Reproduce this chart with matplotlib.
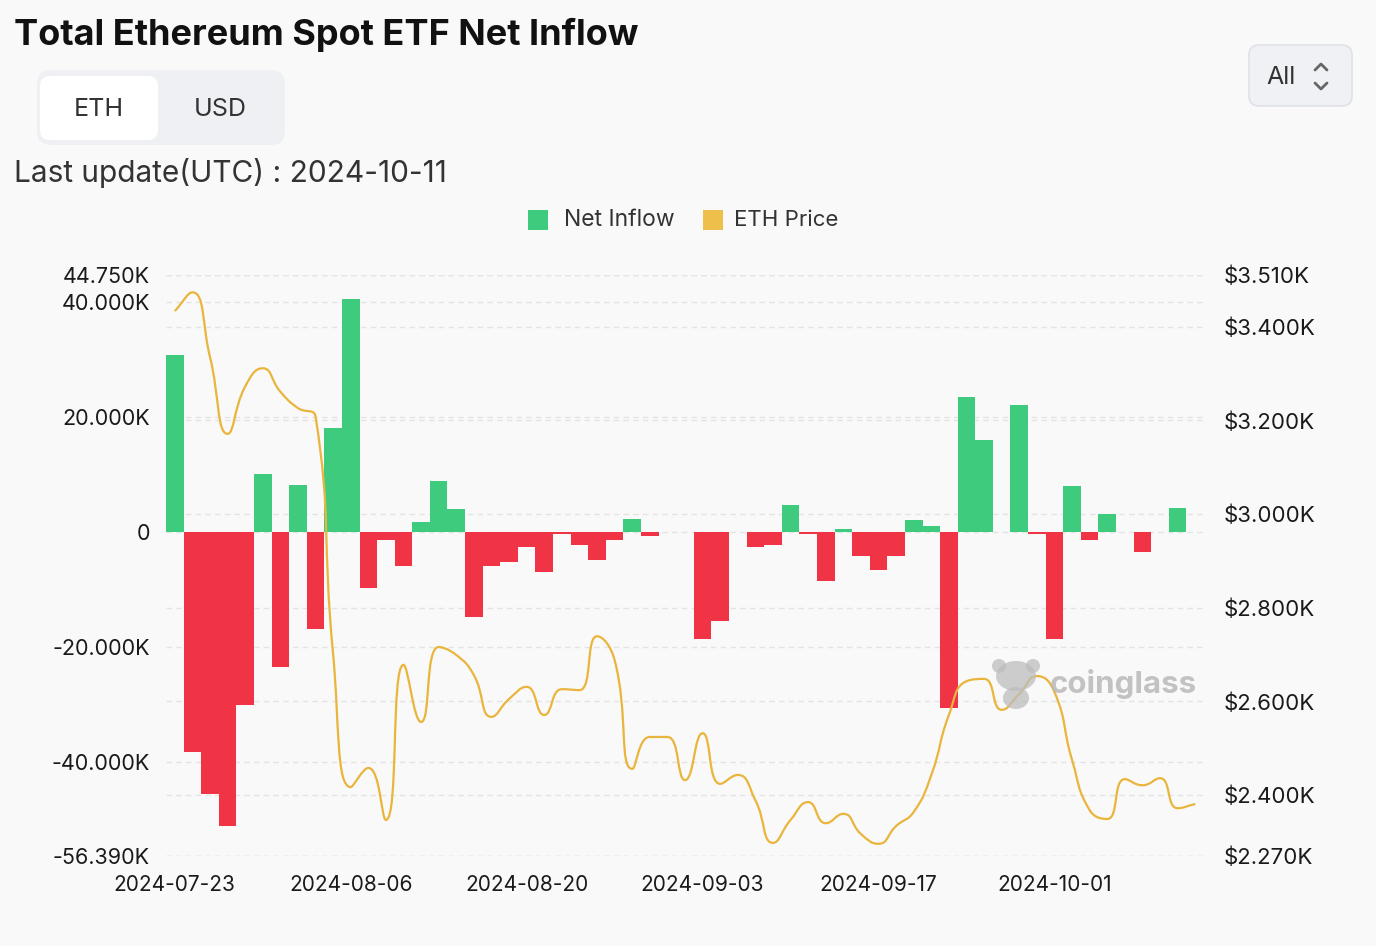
import matplotlib.pyplot as plt
import numpy as np
from matplotlib.patches import FancyBboxPatch, PathPatch, Rectangle, Ellipse, Circle
from matplotlib.path import Path

plt.rcParams['font.family'] = ['Inter', 'DejaVu Sans']

# ---------------------------------------------------------------------------
# DATA
# ---------------------------------------------------------------------------
DATES = [
    "2024-07-23", "2024-07-24", "2024-07-25", "2024-07-26", "2024-07-29",
    "2024-07-30", "2024-07-31", "2024-08-01", "2024-08-02", "2024-08-05",
    "2024-08-06", "2024-08-07", "2024-08-08", "2024-08-09", "2024-08-12",
    "2024-08-13", "2024-08-14", "2024-08-15", "2024-08-16", "2024-08-19",
    "2024-08-20", "2024-08-21", "2024-08-22", "2024-08-23", "2024-08-26",
    "2024-08-27", "2024-08-28", "2024-08-29", "2024-08-30", "2024-09-02",
    "2024-09-03", "2024-09-04", "2024-09-05", "2024-09-06", "2024-09-09",
    "2024-09-10", "2024-09-11", "2024-09-12", "2024-09-13", "2024-09-16",
    "2024-09-17", "2024-09-18", "2024-09-19", "2024-09-20", "2024-09-23",
    "2024-09-24", "2024-09-25", "2024-09-26", "2024-09-27", "2024-09-30",
    "2024-10-01", "2024-10-02", "2024-10-03", "2024-10-04", "2024-10-07",
    "2024-10-08", "2024-10-09", "2024-10-10", "2024-10-11",
]

# net inflow, thousand ETH
NET_INFLOW_K = [
    30.8, -38.2, -45.6, -51.1, -30.1, 10.1, -23.5, 8.2, -16.9, 18.1,
    40.5, -9.7, -1.3, -5.9, 1.8, 8.9, 4.0, -14.7, -5.9, -5.2,
    -2.6, -7.0, -0.3, -2.3, -4.9, -1.3, 2.3, -0.7, 0.0, 0.0,
    -18.6, -15.5, 0.0, -2.6, -2.3, 4.7, -0.3, -8.6, 0.6, -4.1,
    -6.6, -4.2, 2.1, 1.1, -30.6, 23.5, 16.1, 0.0, 22.2, -0.3,
    -18.6, 8.0, -1.4, 3.1, 0.0, -3.4, 0.0, 4.2, 0.0,
]

# ETH price, USD
ETH_PRICE = [
    3433, 3473, 3335, 3171, 3272, 3311, 3261, 3226, 3208, 2700,
    2417, 2458, 2347, 2678, 2556, 2716, 2699, 2656, 2567, 2605,
    2631, 2571, 2626, 2624, 2739, 2688, 2456, 2524, 2524, 2432,
    2532, 2424, 2443, 2389, 2298, 2347, 2385, 2340, 2360, 2317,
    2296, 2334, 2364, 2443, 2571, 2643, 2648, 2582, 2616, 2654,
    2620, 2475, 2368, 2349, 2434, 2421, 2436, 2372, 2381,
]

X_LABEL_DATES = ["2024-07-23", "2024-08-06", "2024-08-20",
                 "2024-09-03", "2024-09-17", "2024-10-01"]

LEFT_TICKS = [-56.39, -40, -20, 0, 20, 40, 44.75]
LEFT_LABELS = ["-56.390K", "-40.000K", "-20.000K", "0",
               "20.000K", "40.000K", "44.750K"]
RIGHT_TICKS = [2270, 2400, 2600, 2800, 3000, 3200, 3400, 3510]
RIGHT_LABELS = ["$2.270K", "$2.400K", "$2.600K", "$2.800K",
                "$3.000K", "$3.200K", "$3.400K", "$3.510K"]

# ---------------------------------------------------------------------------
# STYLE
# ---------------------------------------------------------------------------
W, H = 1376, 946
BG = "#f9f9f9"
GREEN = "#3ecb7e"
RED = "#f03446"
GOLD = "#e9b53c"
GRID = "#e4e4e4"
TXT = "#1a1a1a"

left, right, top, bottom = 166, 1204, 275, 856


def clamp(v, a, b):
    return min(max(v, min(a, b)), max(a, b))


def smooth_path(xs, ys, sx, sy, smooth=0.5):
    """Bezier path through the points, echarts-like smoothing
    (computed in pixel space, control points clamped to neighbours)."""
    px = np.asarray(xs, float) * sx
    py = np.asarray(ys, float) * sy
    n = len(px)
    cin, cout = [], []
    for i in range(n):
        x, y = px[i], py[i]
        x0, y0 = (px[i - 1], py[i - 1]) if i > 0 else (x, y)
        x2, y2 = (px[i + 1], py[i + 1]) if i < n - 1 else (x, y)
        vx, vy = x2 - x0, y2 - y0
        l0 = np.hypot(x - x0, y - y0)
        l1 = np.hypot(x2 - x, y2 - y)
        r = l1 / (l0 + l1) if (l0 + l1) > 0 else 0.5
        ox = clamp(x + vx * smooth * r, x, x2)
        oy = clamp(y + vy * smooth * r, y, y2)
        if l1 > 0:
            ix = x - (ox - x) * l0 / l1
            iy = y - (oy - y) * l0 / l1
        else:
            ix, iy = x - vx * smooth * (1 - r), y - vy * smooth * (1 - r)
        ix = clamp(ix, x0, x)
        iy = clamp(iy, y0, y)
        if l0 > 0:
            ox = x + (x - ix) * l1 / l0
            oy = y + (y - iy) * l1 / l0
        cin.append((ix / sx, iy / sy))
        cout.append((ox / sx, oy / sy))
    verts = [(xs[0], ys[0])]
    codes = [Path.MOVETO]
    for i in range(n - 1):
        verts += [cout[i], cin[i + 1], (xs[i + 1], ys[i + 1])]
        codes += [Path.CURVE4] * 3
    return Path(verts, codes)


fig = plt.figure(figsize=(W / 100, H / 100), dpi=100, facecolor=BG)

# overlay in pixel coordinates for the page furniture
ui = fig.add_axes([0, 0, 1, 1], zorder=0)
ui.set_xlim(0, W)
ui.set_ylim(H, 0)
ui.axis("off")

ui.text(14, 35, "Total Ethereum Spot ETF Net Inflow", fontsize=26,
        fontweight="bold", color="#111111", va="center", ha="left")

# ETH / USD toggle
ui.add_patch(FancyBboxPatch((37, 70), 248, 75,
                            boxstyle="round,pad=0,rounding_size=14",
                            fc="#eef0f3", ec="none"))
ui.add_patch(FancyBboxPatch((40, 76), 118, 64,
                            boxstyle="round,pad=0,rounding_size=10",
                            fc="white", ec="none"))
ui.text(99, 109, "ETH", fontsize=18, color="#333333", ha="center", va="center")
ui.text(220, 109, "USD", fontsize=18, color="#333333", ha="center", va="center")

ui.text(14, 173, "Last update(UTC) : 2024-10-11", fontsize=21.5,
        color="#333333", ha="left", va="center")

# "All" selector
ui.add_patch(FancyBboxPatch((1249, 45), 103, 61,
                            boxstyle="round,pad=0,rounding_size=10",
                            fc="#eff1f4", ec="#dfe2e6", lw=1.2))
ui.text(1266, 77, "All", fontsize=18, color="#333333", ha="left", va="center")
ui.plot([1315, 1321, 1327], [70, 64, 70], color="#666666", lw=2,
        solid_capstyle="round")
ui.plot([1315, 1321, 1327], [83, 89, 83], color="#666666", lw=2,
        solid_capstyle="round")

# legend
ui.add_patch(Rectangle((528, 210), 20, 20, fc=GREEN, ec="none"))
ui.text(564, 220, "Net Inflow", fontsize=16.5, color="#333333", va="center")
ui.add_patch(Rectangle((703, 210), 20, 20, fc="#efbf4c", ec="none"))
ui.text(734, 220, "ETH Price", fontsize=16, color="#333333", va="center")

# ---------------------------------------------------------------------------
# MAIN CHART
# ---------------------------------------------------------------------------
ax = fig.add_axes([left / W, 1 - bottom / H, (right - left) / W, (bottom - top) / H],
                  zorder=1)
ax.set_facecolor("none")
ax2 = ax.twinx()

x = np.arange(len(DATES))
vals = np.array(NET_INFLOW_K)
colors = [GREEN if v >= 0 else RED for v in vals]
ax.bar(x, vals, width=1.0, color=colors, zorder=2, linewidth=0)

ylo, yhi = LEFT_TICKS[0], LEFT_TICKS[-1]
plo, phi = RIGHT_TICKS[0], RIGHT_TICKS[-1]
ax.set_ylim(ylo, yhi)
ax.set_xlim(-0.5, len(DATES) - 0.5)
ax2.set_ylim(plo, phi)

# grid lines for both scales, drawn under the bars
for t in LEFT_TICKS:
    ax.axhline(t, color=GRID, lw=1, ls=(0, (4, 3)), zorder=0)
for p in RIGHT_TICKS:
    ax.axhline(ylo + (p - plo) / (phi - plo) * (yhi - ylo), color=GRID, lw=1,
               ls=(0, (4, 3)), zorder=0)

# pixels per unit, used so the smoothing behaves like it does on screen
sx = (right - left) / len(DATES)
sy = (bottom - top) / (phi - plo)
ax2.add_patch(PathPatch(smooth_path(x, ETH_PRICE, sx, sy), fc="none", ec=GOLD,
                        lw=1.6, zorder=3))

ax.set_yticks(LEFT_TICKS)
ax.set_yticklabels(LEFT_LABELS)
ax2.set_yticks(RIGHT_TICKS)
ax2.set_yticklabels(RIGHT_LABELS)
ax.set_xticks([DATES.index(d) for d in X_LABEL_DATES])
ax.set_xticklabels(X_LABEL_DATES)

for a in (ax, ax2):
    for s in a.spines.values():
        s.set_visible(False)
ax.tick_params(axis="y", length=0, pad=11.5, labelsize=15.5, labelcolor=TXT)
ax2.tick_params(axis="y", length=0, pad=14, labelsize=16, labelcolor=TXT)
ax.tick_params(axis="x", length=0, pad=13.5, labelsize=15, labelcolor=TXT)

# watermark
wm = fig.add_axes([0, 0, 1, 1], zorder=5)
wm.set_xlim(0, W)
wm.set_ylim(H, 0)
wm.axis("off")
wm.add_patch(Ellipse((1016, 676), 40, 30, fc="#bdbdbd", ec="none", alpha=0.75))
wm.add_patch(Circle((999, 666), 7, fc="#bdbdbd", ec="none", alpha=0.75))
wm.add_patch(Circle((1033, 666), 7, fc="#bdbdbd", ec="none", alpha=0.75))
wm.add_patch(Ellipse((1016, 698), 26, 22, fc="#bdbdbd", ec="none", alpha=0.75))
wm.text(1050, 684, "coinglass", fontsize=22.5, fontweight="bold",
        color="#b9b9b9", alpha=0.85, va="center", ha="left")

fig.savefig("out.png", dpi=100, facecolor=BG)
